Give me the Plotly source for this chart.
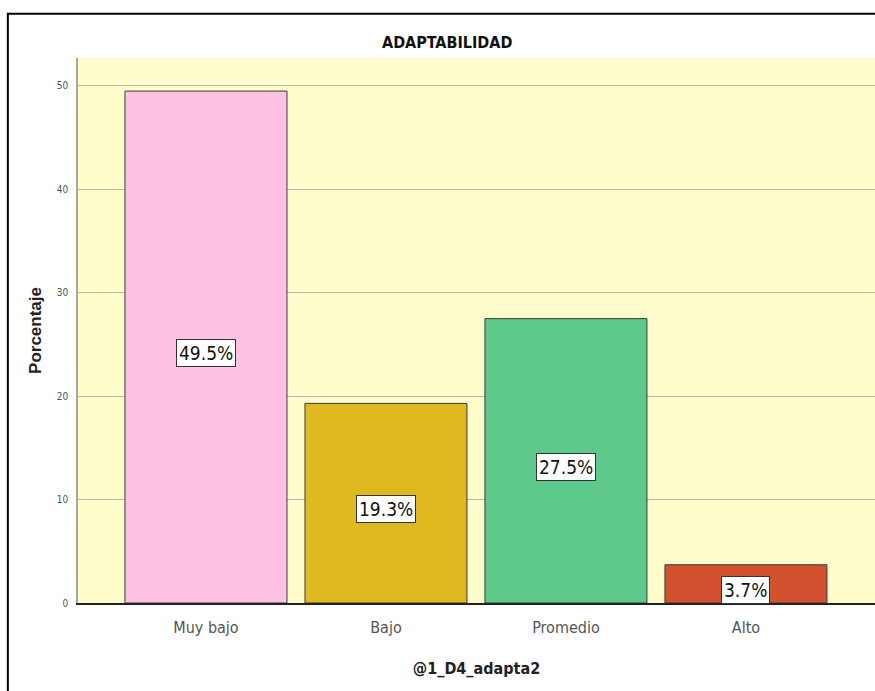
import plotly.graph_objects as go

categories = ["Muy bajo", "Bajo", "Promedio", "Alto"]
percentages = [49.5, 19.3, 27.5, 3.7]
value_labels = ["49.5%", "19.3%", "27.5%", "3.7%"]
bar_colors = ["#FFC2E2", "#DFB920", "#5DCA8B", "#D25230"]
y_ticks = [0, 10, 20, 30, 40, 50]

FONT = "Liberation Sans Narrow, Arial Narrow, DejaVu Sans Condensed, sans-serif"

fig = go.Figure()
fig.add_trace(go.Bar(
    x=categories, y=percentages,
    marker=dict(color=bar_colors, line=dict(color="#3a3a3a", width=1)),
    width=0.9, hoverinfo="skip",
))

for c, v, t in zip(categories, percentages, value_labels):
    fig.add_annotation(
        x=c, y=v / 2, text=t, showarrow=False, xref="x", yref="y", yshift=-6,
        font=dict(family=FONT, size=19, color="#111"),
        bgcolor="white", bordercolor="#333", borderwidth=1, borderpad=2,
    )

fig.add_annotation(
    x=0.463, y=1.0, xref="paper", yref="paper", yanchor="bottom", yshift=4,
    text="<b>ADAPTABILIDAD</b>", showarrow=False,
    font=dict(family=FONT, size=16, color="#111"),
)

# outer frame
fig.add_shape(type="rect", xref="paper", yref="paper",
              x0=-0.088, x1=1.05, y0=-0.2, y1=1.081,
              line=dict(color="black", width=2), layer="above")

fig.update_layout(
    width=875, height=691,
    margin=dict(l=78, r=0, t=58, b=88),
    paper_bgcolor="white", plot_bgcolor="#FFFDCC",
    showlegend=False,
    font=dict(family=FONT),
    xaxis=dict(
        range=[-0.711, 3.717], showgrid=False, showline=True,
        linecolor="#222", linewidth=1.5, ticks="",
        tickfont=dict(family=FONT, size=16, color="#555"),
        ticklabelstandoff=9,
        title=dict(text="<b>@1_D4_adapta2</b>", standoff=27,
                   font=dict(family=FONT, size=16, color="#222")),
    ),
    yaxis=dict(
        range=[0, 52.7], tickvals=y_ticks, showgrid=True,
        gridcolor="#B6B6AC", gridwidth=1, zeroline=False,
        showline=True, linecolor="#A8A8A0", linewidth=1.5, ticks="",
        tickfont=dict(family=FONT, size=10, color="#555"),
        ticklabelstandoff=6,
        title=dict(text="<b>Porcentaje</b>", standoff=11,
                   font=dict(family="Liberation Sans, Arial, sans-serif", size=17, color="#222")),
    ),
)

fig.write_html(
    "out.html",
    config={"displayModeBar": False},
    post_script="document.body.style.margin='0';document.body.style.overflow='hidden';",
)
